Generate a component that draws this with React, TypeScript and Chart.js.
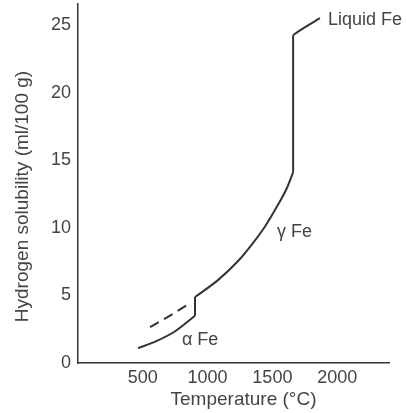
import React, { useEffect, useRef } from 'react';
import { Chart, registerables } from 'chart.js';

Chart.register(...registerables);

// Temperature (°C) / hydrogen solubility (ml/100 g)
const alphaTemp = [463, 600, 750, 903];
const alphaSol = [1.1, 1.6, 2.35, 3.5];
const gammaTemp = [903, 1080, 1235, 1350, 1443, 1543, 1615, 1660];
const gammaSol = [4.88, 6.13, 7.54, 8.87, 10.1, 11.7, 13.0, 14.1];
const liquidTemp = [1660, 1713, 1867];
const liquidSol = [24.24, 24.6, 25.5];
const dashedTemp = [556, 710, 864];
const dashedSol = [2.66, 3.5, 4.43];

const xTickValues = [500, 1000, 1500, 2000];
const yTickValues = [0, 5, 10, 15, 20, 25];

const phaseLabels = ['Liquid Fe', 'γ Fe', 'α Fe'];
const phaseLabelTemp = [1929, 1535, 802];
const phaseLabelSol = [25.35, 9.68, 1.7];

const xTitle = 'Temperature (°C)';
const yTitle = 'Hydrogen solubility (ml/100 g)';

const FONT = '"Liberation Sans", Arial, Helvetica, sans-serif';
const LINE = '#333333';
const TEXT = '#444444';

const pts = (xs: number[], ys: number[]) => xs.map((x, i) => ({ x, y: ys[i] }));

export default function App() {
  const ref = useRef<HTMLCanvasElement | null>(null);

  useEffect(() => {
    if (!ref.current) return;
    const lineBase = {
      borderColor: LINE,
      borderWidth: 2,
      pointRadius: 0,
      fill: false,
      showLine: true,
    };
    const curve = { ...lineBase, tension: 0.4, cubicInterpolationMode: 'monotone' as const };

    const labelsPlugin = {
      id: 'phaseLabels',
      afterDatasetsDraw(chart: any) {
        const { ctx, scales, chartArea } = chart;
        ctx.save();
        ctx.fillStyle = TEXT;
        ctx.font = `18px ${FONT}`;
        ctx.textBaseline = 'middle';
        ctx.textAlign = 'left';
        phaseLabels.forEach((t, i) => {
          ctx.fillText(t, scales.x.getPixelForValue(phaseLabelTemp[i]), scales.y.getPixelForValue(phaseLabelSol[i]));
        });
        // axis titles
        ctx.font = `19px ${FONT}`;
        ctx.textAlign = 'center';
        ctx.fillText(xTitle, (chartArea.left + chartArea.right) / 2 + 10, chartArea.bottom + 37);
        ctx.translate(23, (chartArea.top + chartArea.bottom) / 2 + 13);
        ctx.rotate(-Math.PI / 2);
        ctx.fillText(yTitle, 0, 0);
        ctx.restore();
      },
    };

    const chart = new Chart(ref.current, {
      type: 'scatter',
      data: {
        datasets: [
          { ...curve, data: pts(alphaTemp, alphaSol) },
          {
            ...lineBase,
            data: [
              { x: alphaTemp[alphaTemp.length - 1], y: alphaSol[alphaSol.length - 1] },
              { x: gammaTemp[0], y: gammaSol[0] },
            ],
          },
          { ...curve, data: pts(gammaTemp, gammaSol) },
          {
            ...lineBase,
            data: [
              { x: gammaTemp[gammaTemp.length - 1], y: gammaSol[gammaSol.length - 1] },
              { x: liquidTemp[0], y: liquidSol[0] },
            ],
          },
          { ...lineBase, tension: 0.2, data: pts(liquidTemp, liquidSol) },
          { ...curve, borderDash: [10, 6], data: pts(dashedTemp, dashedSol) },
        ],
      },
      options: {
        animation: false,
        responsive: false,
        maintainAspectRatio: false,
        layout: { padding: { left: 0, right: 18, top: 4, bottom: 0 } },
        plugins: { legend: { display: false }, tooltip: { enabled: false } },
        scales: {
          x: {
            type: 'linear',
            min: 0,
            max: 2400,
            grid: { display: false, drawTicks: false },
            border: { display: true, color: LINE, width: 1.5 },
            afterBuildTicks: (s: any) => {
              s.ticks = xTickValues.map((v) => ({ value: v }));
            },
            afterFit: (s: any) => {
              s.height = 50;
              s.paddingLeft = 0;
              s.paddingRight = 0;
            },
            ticks: {
              color: TEXT,
              font: { family: FONT, size: 18 },
              padding: 4,
              maxRotation: 0,
              autoSkip: false,
              callback: (v: any) => String(v),
            },
          },
          y: {
            type: 'linear',
            min: 0,
            max: 26.55,
            grid: { display: false, drawTicks: false },
            border: { display: true, color: LINE, width: 1.5 },
            afterBuildTicks: (s: any) => {
              s.ticks = yTickValues.map((v) => ({ value: v }));
            },
            afterFit: (s: any) => {
              s.width = 78;
              s.paddingTop = 0;
              s.paddingBottom = 0;
            },
            ticks: {
              color: TEXT,
              font: { family: FONT, size: 18 },
              padding: 7,
              autoSkip: false,
              callback: (v: any) => String(v),
            },
          },
        },
      },
      plugins: [labelsPlugin],
    });
    return () => chart.destroy();
  }, []);

  return (
    <div style={{ position: 'absolute', left: 0, top: 0, width: 407, height: 413, background: '#fff' }}>
      <canvas ref={ref} width={407} height={413} style={{ display: 'block' }} />
    </div>
  );
}
